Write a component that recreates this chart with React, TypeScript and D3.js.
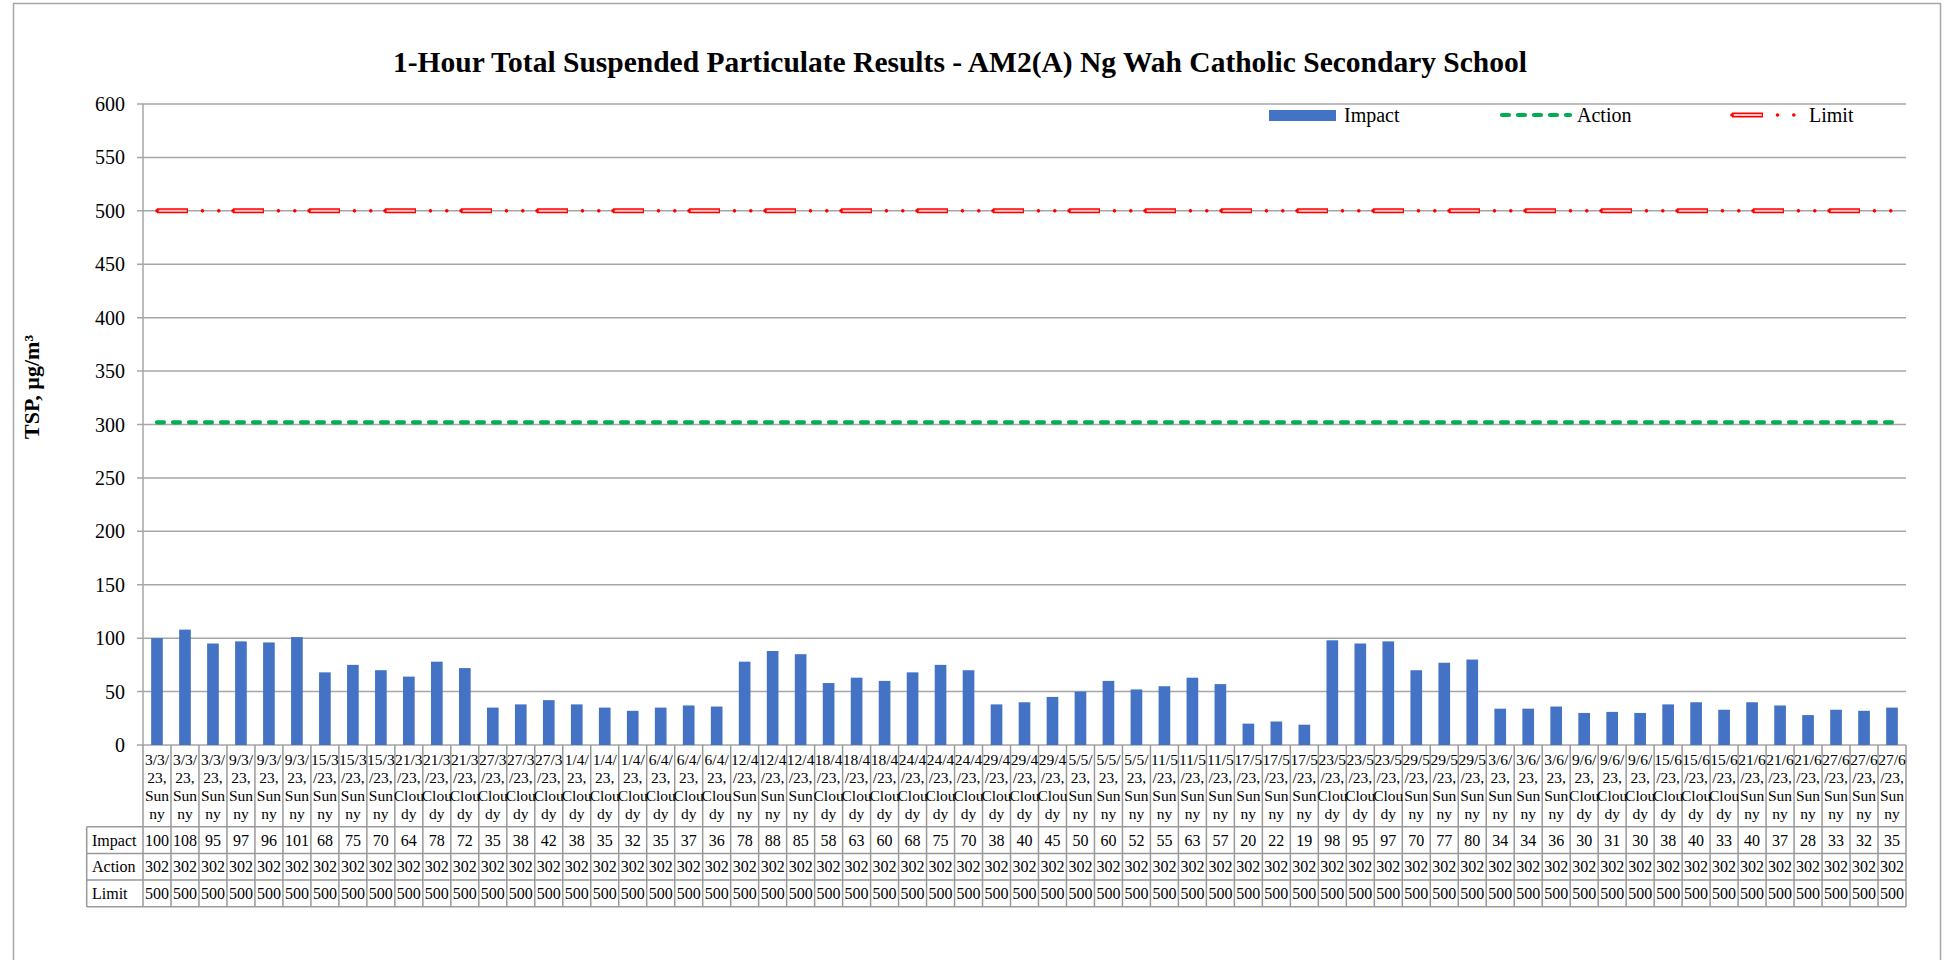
import React, { useMemo } from 'react';
import * as d3 from 'd3';

// sampling date / weather for each 1-hour result
const categories = [
  '3/3/23, Sunny', '3/3/23, Sunny', '3/3/23, Sunny',
  '9/3/23, Sunny', '9/3/23, Sunny', '9/3/23, Sunny',
  '15/3/23, Sunny', '15/3/23, Sunny', '15/3/23, Sunny',
  '21/3/23, Cloudy', '21/3/23, Cloudy', '21/3/23, Cloudy',
  '27/3/23, Cloudy', '27/3/23, Cloudy', '27/3/23, Cloudy',
  '1/4/23, Cloudy', '1/4/23, Cloudy', '1/4/23, Cloudy',
  '6/4/23, Cloudy', '6/4/23, Cloudy', '6/4/23, Cloudy',
  '12/4/23, Sunny', '12/4/23, Sunny', '12/4/23, Sunny',
  '18/4/23, Cloudy', '18/4/23, Cloudy', '18/4/23, Cloudy',
  '24/4/23, Cloudy', '24/4/23, Cloudy', '24/4/23, Cloudy',
  '29/4/23, Cloudy', '29/4/23, Cloudy', '29/4/23, Cloudy',
  '5/5/23, Sunny', '5/5/23, Sunny', '5/5/23, Sunny',
  '11/5/23, Sunny', '11/5/23, Sunny', '11/5/23, Sunny',
  '17/5/23, Sunny', '17/5/23, Sunny', '17/5/23, Sunny',
  '23/5/23, Cloudy', '23/5/23, Cloudy', '23/5/23, Cloudy',
  '29/5/23, Sunny', '29/5/23, Sunny', '29/5/23, Sunny',
  '3/6/23, Sunny', '3/6/23, Sunny', '3/6/23, Sunny',
  '9/6/23, Cloudy', '9/6/23, Cloudy', '9/6/23, Cloudy',
  '15/6/23, Cloudy', '15/6/23, Cloudy', '15/6/23, Cloudy',
  '21/6/23, Sunny', '21/6/23, Sunny', '21/6/23, Sunny',
  '27/6/23, Sunny', '27/6/23, Sunny', '27/6/23, Sunny',
];

const impact = [
  100, 108, 95, 97, 96, 101, 68, 75, 70, 64, 78, 72, 35, 38, 42, 38, 35, 32, 35, 37, 36,
  78, 88, 85, 58, 63, 60, 68, 75, 70, 38, 40, 45, 50, 60, 52, 55, 63, 57, 20, 22, 19,
  98, 95, 97, 70, 77, 80, 34, 34, 36, 30, 31, 30, 38, 40, 33, 40, 37, 28, 33, 32, 35,
];

const actionLevel = 302;
const limitLevel = 500;

const yTicks = [0, 50, 100, 150, 200, 250, 300, 350, 400, 450, 500, 550, 600];

const W = 1948;
const H = 960;
const plot = { left: 143, right: 1906, top: 104, bottom: 745 };
const rowH = 26.7;
const tableTop = 826.7;
const headerLeft = 86.7;

const FONT = "'Liberation Serif', 'Times New Roman', Times, serif";
const GRID = '#a6a6a6';
const LINE = '#999999';

// excel-like wrap: words first, then characters when a word is too wide
const wrapLabel = (label: string, maxW: number, font: string) => {
  const ctx = document.createElement('canvas').getContext('2d')!;
  ctx.font = font;
  const w = (s: string) => ctx.measureText(s).width;
  const lines: string[] = [];
  let cur = '';
  label.split(' ').forEach((word) => {
    const cand = cur ? cur + ' ' + word : word;
    if (w(cand) <= maxW) {
      cur = cand;
      return;
    }
    if (cur) lines.push(cur);
    cur = '';
    for (const ch of word) {
      if (w(cur + ch) <= maxW) cur += ch;
      else {
        lines.push(cur);
        cur = ch;
      }
    }
  });
  if (cur) lines.push(cur);
  return lines;
};

const App = () => {
  const x = d3
    .scaleBand<number>()
    .domain(d3.range(categories.length))
    .range([plot.left, plot.right]);

  const y = d3.scaleLinear().domain([0, 600]).range([plot.bottom, plot.top]);

  const bw = x.bandwidth();
  const barW = bw / 2.4;
  const cx = (i: number) => x(i)! + bw / 2;

  const line = d3
    .line<number>()
    .x((d, i) => cx(i === 0 ? 0 : categories.length - 1))
    .y((d) => y(d));

  const actionPath = line([actionLevel, actionLevel])!;
  const limitPath = line([limitLevel, limitLevel])!;

  const labels = useMemo(
    () => categories.map((c) => wrapLabel(c, 31, `15.5px ${FONT}`)),
    []
  );

  const rows = [
    { name: 'Impact', values: impact },
    { name: 'Action', values: categories.map(() => actionLevel) },
    { name: 'Limit', values: categories.map(() => limitLevel) },
  ];
  const tableBottom = tableTop + rowH * rows.length;

  const limitStyle = (d: string) => (
    <g>
      <path d={d} fill="none" stroke="#ff0000" strokeWidth={5} strokeDasharray="31 45" />
      <path d={d} fill="none" stroke="#f9c4c4" strokeWidth={2} strokeDasharray="0 1.2 28.6 46.2" />
      <path
        d={d}
        fill="none"
        stroke="#ff0000"
        strokeWidth={3.6}
        strokeLinecap="round"
        strokeDasharray="0 45.5 0 16.3 0 14.2"
      />
    </g>
  );

  return (
    <svg
      width={W}
      height={H}
      style={{ position: 'absolute', left: 0, top: 0, background: '#fff' }}
      fontFamily={FONT}
    >
      <rect x={13.5} y={3.5} width={1927} height={1000} fill="#fff" stroke={GRID} strokeWidth={1.5} />

      <text x={960} y={72} textAnchor="middle" fontSize={29.5} fontWeight="bold">
        1-Hour Total Suspended Particulate Results - AM2(A) Ng Wah Catholic Secondary School
      </text>

      {/* gridlines + y axis */}
      {yTicks.map((t) => (
        <g key={t}>
          <line x1={plot.left - 6} x2={plot.right} y1={y(t)} y2={y(t)} stroke={GRID} strokeWidth={1.5} />
          <text x={125} y={y(t)} dy="0.35em" textAnchor="end" fontSize={20}>
            {t}
          </text>
        </g>
      ))}
      <line x1={plot.left} x2={plot.left} y1={plot.top} y2={plot.bottom} stroke={GRID} strokeWidth={1.5} />

      <text
        transform={`translate(31,387) rotate(-90)`}
        textAnchor="middle"
        dy="0.35em"
        fontSize={22}
        fontWeight="bold"
      >
        TSP, µg/m³
      </text>

      {/* bars */}
      {impact.map((v, i) => (
        <rect key={i} x={cx(i) - barW / 2} y={y(v)} width={barW} height={y(0) - y(v)} fill="#4472c4" />
      ))}

      {/* action level */}
      <path
        d={actionPath}
        fill="none"
        stroke="#00b050"
        strokeWidth={4.2}
        strokeLinecap="round"
        strokeDasharray="7 9"
      />
      {/* limit level */}
      {limitStyle(limitPath)}

      {/* legend */}
      <rect x={1269} y={110} width={67} height={11} fill="#4472c4" />
      <text x={1344} y={115} dy="0.35em" fontSize={20}>Impact</text>
      <path
        d="M1502,115L1570,115"
        fill="none"
        stroke="#00b050"
        strokeWidth={4.2}
        strokeLinecap="round"
        strokeDasharray="7 9"
      />
      <text x={1577} y={115} dy="0.35em" fontSize={20}>Action</text>
      {limitStyle('M1732,115L1797,115')}
      <text x={1809} y={115} dy="0.35em" fontSize={20}>Limit</text>

      {/* data table */}
      <g stroke={LINE} strokeWidth={1.5}>
        {d3.range(categories.length + 1).map((i) => {
          const xx = i === categories.length ? plot.right : x(i)!;
          return <line key={i} x1={xx} x2={xx} y1={plot.bottom} y2={tableBottom} />;
        })}
        {d3.range(rows.length + 1).map((r) => (
          <line
            key={r}
            x1={headerLeft}
            x2={plot.right}
            y1={tableTop + r * rowH}
            y2={tableTop + r * rowH}
          />
        ))}
        <line x1={headerLeft} x2={headerLeft} y1={tableTop} y2={tableBottom} />
      </g>

      {labels.map((ls, i) => (
        <text key={i} textAnchor="middle" fontSize={15.5}>
          {ls.map((l, k) => (
            <tspan key={k} x={cx(i)} y={plot.bottom + 20 + k * 18}>
              {l}
            </tspan>
          ))}
        </text>
      ))}

      {rows.map((row, r) => (
        <g key={row.name}>
          <text x={92} y={tableTop + r * rowH + rowH / 2} dy="0.35em" fontSize={16}>
            {row.name}
          </text>
          {row.values.map((v, i) => (
            <text
              key={i}
              x={cx(i)}
              y={tableTop + r * rowH + rowH / 2}
              dy="0.35em"
              textAnchor="middle"
              fontSize={16}
            >
              {v}
            </text>
          ))}
        </g>
      ))}
    </svg>
  );
};

export default App;
